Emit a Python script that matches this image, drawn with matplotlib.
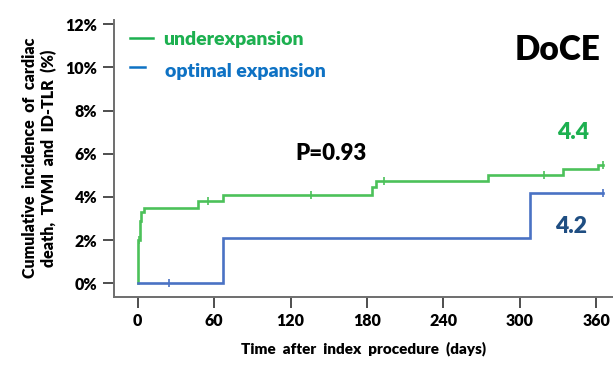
import matplotlib
matplotlib.use("Agg")
import matplotlib.pyplot as plt
import numpy as np

plt.rcParams['font.family'] = ['Lato', 'DejaVu Sans']

# Kaplan-Meier step data (days, cumulative incidence %)
under_t = [0, 0.5, 1.5, 3, 5, 47, 67, 184, 187, 275, 334, 361, 365]
under_y = [0, 2.0, 2.9, 3.3, 3.5, 3.8, 4.1, 4.45, 4.75, 5.0, 5.3, 5.5, 5.5]
under_censor_t = [1, 55, 136, 193, 319, 365]

optimal_t = [0, 67, 308, 365]
optimal_y = [0, 2.1, 4.2, 4.2]
optimal_censor_t = [25, 365]

xticks = [0, 60, 120, 180, 240, 300, 360]
yticks = [0, 2, 4, 6, 8, 10, 12]

p_value_text = "P=0.93"
under_label_value = "4.4"
optimal_label_value = "4.2"

green_line = "#4CC15A"
blue_line = "#4A72C4"
green_text = "#1DB050"
blue_text = "#0E72C4"
dark_blue = "#1F4E82"

fig = plt.figure(figsize=(6.13, 3.68), dpi=100)
ax = fig.add_axes([0.186, 0.194, 0.814, 0.752])


def km_value(ts, ys, t):
    idx = np.searchsorted(ts, t, side='right') - 1
    return ys[max(idx, 0)]


ax.step(under_t, under_y, where='post', color=green_line, lw=1.9, solid_joinstyle='miter')
ax.step(optimal_t, optimal_y, where='post', color=blue_line, lw=1.9, solid_joinstyle='miter')

for t in under_censor_t:
    ax.plot([t], [km_value(under_t, under_y, t)], marker='|', color=green_line, ms=6, mew=1.2)
for t in optimal_censor_t:
    ax.plot([t], [km_value(optimal_t, optimal_y, t)], marker='|', color=blue_line, ms=6, mew=1.2)

ax.set_xlim(-18.5, 373)
ax.set_ylim(-0.62, 12.2)
ax.set_xticks(xticks)
ax.set_yticks(yticks)
ax.set_xticklabels([str(v) for v in xticks], fontsize=11.5, fontweight='heavy')
ax.set_yticklabels([f"{v}%" for v in yticks], fontsize=11.5, fontweight='heavy')

for s in ['top', 'right']:
    ax.spines[s].set_visible(False)
for s in ['left', 'bottom']:
    ax.spines[s].set_color('#6E6E6E')
    ax.spines[s].set_linewidth(1.4)
ax.tick_params(axis='both', direction='out', length=8, width=1.3, color='#404040', pad=4)

ax.set_ylabel("Cumulative  incidence  of  cardiac\ndeath,  TVMI  and  ID-TLR  (%)",
              fontsize=11.5, fontweight='heavy', labelpad=6, linespacing=1.2)
ax.set_xlabel("Time  after  index  procedure  (days)", fontsize=11, fontweight='heavy',
              labelpad=9)

# legend drawn as line segments with coloured text
fig.lines.append(plt.Line2D([130 / 613, 153 / 613], [1 - 38 / 368, 1 - 38 / 368],
                            transform=fig.transFigure, color=green_text, lw=1.8))
fig.text(163 / 613, 1 - 39 / 368, "underexpansion", color=green_text, fontsize=14,
         fontweight='heavy', va='center', ha='left')
fig.lines.append(plt.Line2D([130 / 613, 145 / 613], [1 - 67 / 368, 1 - 67 / 368],
                            transform=fig.transFigure, color=blue_text, lw=1.8))
fig.text(165 / 613, 1 - 72 / 368, "optimal expansion", color=blue_text, fontsize=14,
         fontweight='heavy', va='center', ha='left')

fig.text(558 / 613, 1 - 50 / 368, "DoCE", color='black', fontsize=24,
         fontweight='heavy', va='center', ha='center')

ax.text(124, 6.0, p_value_text, fontsize=16, fontweight='heavy', color='black',
        ha='left', va='center')
ax.text(342, 7.0, under_label_value, fontsize=16.5, fontweight='heavy', color=green_text,
        ha='center', va='center')
ax.text(340, optimal_y[-1] - 1.55, optimal_label_value, fontsize=16.5, fontweight='heavy',
        color=dark_blue, ha='center', va='center')

fig.savefig("out.png", dpi=100)
